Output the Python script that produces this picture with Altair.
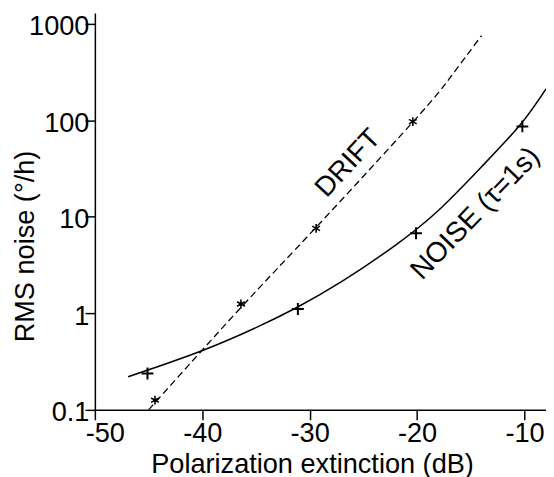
import altair as alt
import pandas as pd

FONT = "Liberation Sans"

# Noise curve
noise_curve_x = [-46.9, -45.0, -39.8, -34.9, -31.2, -27.0, -22.0, -18.0, -14.0, -10.4, -8.0]
noise_curve_y = [0.22, 0.26, 0.42, 0.72, 1.15, 2.14, 5.1, 11.7, 33.0, 90, 212]

# Drift fit line
drift_line_x = [-45.0, -36.4, -29.4, -20.4, -17.0, -14.0]
drift_line_y = [0.1, 1.15, 7.8, 96, 270, 757]

# Measured points
noise_pts_x = [-45.1, -31.1, -20.1, -10.2]
noise_pts_y = [0.238, 1.11, 6.76, 86.5]
drift_pts_x = [-44.4, -36.4, -29.4, -20.4]
drift_pts_y = [0.126, 1.25, 7.6, 97]

# Annotations
label_text = ["DRIFT", "NOISE (τ=1s)"]
label_x = [-26.4, -14.6]
label_y = [35.8, 10.9]

x_ticks = [-50, -40, -30, -20, -10]
y_ticks = [0.1, 1, 10, 100, 1000]

FS = 27.5

x_scale = alt.Scale(domain=[-50, -8], nice=False, zero=False)
y_scale = alt.Scale(type="log", domain=[0.1, 1295], nice=False)

x_axis = alt.Axis(
    values=x_ticks, labelExpr="'' + datum.value", title="Polarization extinction (dB)",
    grid=False, domainColor="black", domainWidth=1.5, tickColor="black", tickWidth=1.5,
    tickSize=10, labelFont=FONT, labelFontSize=FS, labelColor="black",
    labelBaseline="alphabetic", labelPadding=22.5, labelFlush=False, labelOverlap=False,
    labelOffset={"condition": {"test": "datum.value === -50", "value": 10}, "value": 0},
    titleFont=FONT, titleFontSize=FS, titleFontWeight="normal", titleColor="black",
    titleX=220, titleY=63.5, titleBaseline="alphabetic", titleAlign="center",
)
y_axis = alt.Axis(
    values=y_ticks, format="~g", title="RMS noise (°/h)",
    grid=False, domainColor="black", domainWidth=1.5, tickColor="black", tickWidth=1.5,
    tickSize=10, labelFont=FONT, labelFontSize=FS, labelColor="black",
    labelAlign="right", labelBaseline="middle", labelPadding=-4, labelOffset=3,
    labelFlush=False, labelOverlap=False,
    titleFont=FONT, titleFontSize=FS, titleFontWeight="normal", titleColor="black",
    titleAngle=270, titleX=-70, titleY=236, titleBaseline="middle", titleAlign="center",
)

X = alt.X("x:Q", scale=x_scale, axis=x_axis)
Y = alt.Y("y:Q", scale=y_scale, axis=y_axis)

noise_curve = alt.Chart(pd.DataFrame({"x": noise_curve_x, "y": noise_curve_y})).mark_line(
    color="black", strokeWidth=1.5, interpolate="natural", clip=True
).encode(x=X, y=Y)

drift_line = alt.Chart(pd.DataFrame({"x": drift_line_x, "y": drift_line_y})).mark_line(
    color="black", strokeWidth=1.3, strokeDash=[7, 4], interpolate="natural", clip=True
).encode(x=X, y=Y)

noise_pts = alt.Chart(pd.DataFrame({"x": noise_pts_x, "y": noise_pts_y})).mark_point(
    shape="M-1,0L1,0M0,-1L0,1", size=144, filled=False, stroke="black",
    strokeWidth=2, opacity=1
).encode(x=X, y=Y)

drift_pts = alt.Chart(pd.DataFrame({"x": drift_pts_x, "y": drift_pts_y})).mark_point(
    shape="M0,-1L0,1M-0.87,-0.5L0.87,0.5M-0.87,0.5L0.87,-0.5", size=81, filled=False,
    stroke="black", strokeWidth=1.6, opacity=1
).encode(x=X, y=Y)

labels_df = pd.DataFrame({"x": label_x, "y": label_y, "t": label_text})
label_drift = alt.Chart(labels_df.iloc[[0]]).mark_text(
    angle=313, fontSize=28, font=FONT, align="center", baseline="middle", color="black"
).encode(x=X, y=Y, text="t:N")
label_noise = alt.Chart(labels_df.iloc[[1]]).mark_text(
    angle=314, fontSize=28.5, font=FONT, align="center", baseline="middle", color="black"
).encode(x=X, y=Y, text="t:N")

chart = alt.layer(drift_line, noise_curve, noise_pts, drift_pts, label_drift, label_noise).properties(
    width=457, height=402,
    autosize=alt.AutoSizeParams(type="none"),
    padding={"left": 88, "top": 2, "right": 0, "bottom": 70},
).configure_view(strokeOpacity=0)

chart.save("out.html", embed_options={"renderer": "svg", "actions": False})
